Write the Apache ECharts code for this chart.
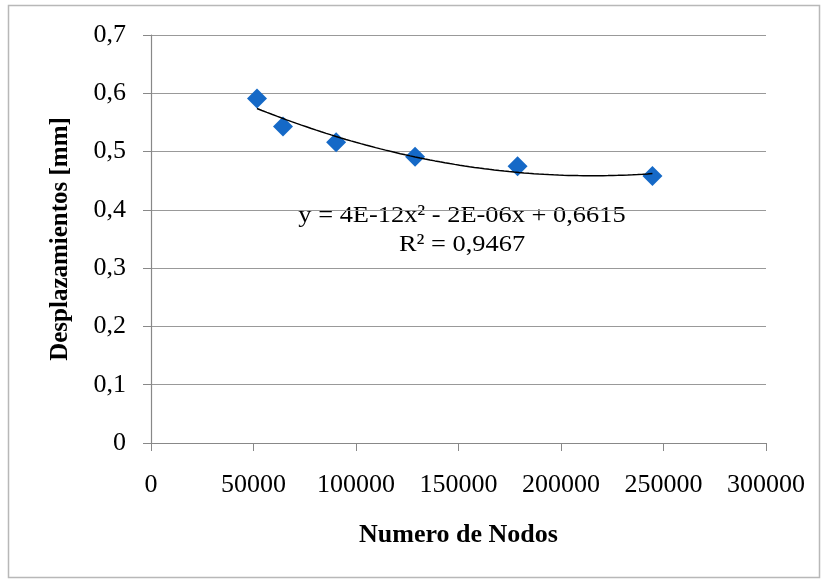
<!DOCTYPE html>
<html>
<head>
<meta charset="utf-8">
<script src="https://cdn.jsdelivr.net/npm/echarts@6/dist/echarts.min.js"></script>
<style>
  html, body { margin: 0; padding: 0; background: #fff; }
  #chart { width: 824px; height: 581px; }
</style>
</head>
<body>
<div id="chart"></div>
<script>
const nodos = [51700, 64400, 90300, 128800, 178800, 244600];
const desplazamientos = [0.591, 0.543, 0.516, 0.491, 0.475, 0.458];
const equationText = "y = 4E-12x² - 2E-06x + 0,6615";
const r2Text = "R² = 0,9467";

// least squares fit of degree 2 (same as the spreadsheet trendline)
function quadFit(xs, ys) {
  const n = xs.length;
  let s = [0, 0, 0, 0, 0], t = [0, 0, 0];
  for (let i = 0; i < n; i++) {
    let p = 1;
    for (let k = 0; k < 5; k++) {
      s[k] += p;
      if (k < 3) t[k] += p * ys[i];
      p *= xs[i];
    }
  }
  const m = [
    [s[0], s[1], s[2], t[0]],
    [s[1], s[2], s[3], t[1]],
    [s[2], s[3], s[4], t[2]],
  ];
  for (let c = 0; c < 3; c++) {
    for (let r = c + 1; r < 3; r++) {
      const f = m[r][c] / m[c][c];
      for (let k = c; k < 4; k++) m[r][k] -= f * m[c][k];
    }
  }
  const b = [0, 0, 0];
  for (let r = 2; r >= 0; r--) {
    let v = m[r][3];
    for (let k = r + 1; k < 3; k++) v -= m[r][k] * b[k];
    b[r] = v / m[r][r];
  }
  return b;
}

const coef = quadFit(nodos, desplazamientos);
const xMin = Math.min(...nodos), xMax = Math.max(...nodos);
const trend = [];
for (let i = 0; i <= 80; i++) {
  const x = xMin + (xMax - xMin) * i / 80;
  trend.push([x, coef[0] + coef[1] * x + coef[2] * x * x]);
}

const serif = "'Liberation Serif', 'Times New Roman', serif";
const chart = echarts.init(document.getElementById("chart"));

chart.setOption({
  animation: false,
  textStyle: { fontFamily: serif },
  grid: { left: 151, right: 58, top: 35, bottom: 138 },
  graphic: [
    {
      type: "rect",
      shape: { x: 8.5, y: 5.5, width: 811, height: 572 },
      style: { fill: "none", stroke: "#b8b8b8", lineWidth: 1.5 },
      silent: true,
    },
    {
      type: "text",
      x: 462,
      y: 216,
      scaleX: 1.1,
      style: { text: equationText, font: "24px " + serif, fill: "#000", align: "center", verticalAlign: "middle" },
    },
    {
      type: "text",
      x: 462,
      y: 245,
      scaleX: 1.1,
      style: { text: r2Text, font: "24px " + serif, fill: "#000", align: "center", verticalAlign: "middle" },
    },
  ],
  xAxis: {
    type: "value",
    min: 0,
    max: 300000,
    interval: 50000,
    name: "Numero de Nodos",
    nameLocation: "middle",
    nameGap: 79,
    nameTextStyle: { fontSize: 26, fontWeight: "bold", color: "#000", fontFamily: serif },
    axisLine: { show: true, lineStyle: { color: "#888", width: 1.2 } },
    axisTick: { show: true, length: 8, lineStyle: { color: "#888" } },
    axisLabel: { color: "#000", fontSize: 26, margin: 29, fontFamily: serif, formatter: (v) => String(v) },
    splitLine: { show: false },
  },
  yAxis: {
    type: "value",
    min: 0,
    max: 0.7,
    interval: 0.1,
    name: "Desplazamientos [mm]",
    nameLocation: "middle",
    nameGap: 78,
    nameTextStyle: { fontSize: 25, fontWeight: "bold", color: "#000", fontFamily: serif },
    axisLine: { show: true, lineStyle: { color: "#888", width: 1.2 } },
    axisTick: { show: true, length: 8, lineStyle: { color: "#888" } },
    axisLabel: {
      color: "#000",
      fontSize: 26,
      margin: 25,
      fontFamily: serif,
      formatter: (v) => (v === 0 ? "0" : v.toFixed(1).replace(".", ",")),
    },
    splitLine: { show: true, lineStyle: { color: "#999", width: 1.2 } },
  },
  series: [
    {
      type: "scatter",
      data: nodos.map((x, i) => [x, desplazamientos[i]]),
      symbol: "diamond",
      symbolSize: 20,
      itemStyle: { color: "#1569c7", opacity: 1 },
    },
    {
      type: "line",
      data: trend,
      showSymbol: false,
      smooth: false,
      lineStyle: { color: "#000", width: 1.5 },
      z: 3,
    },
  ],
});
</script>
</body>
</html>
